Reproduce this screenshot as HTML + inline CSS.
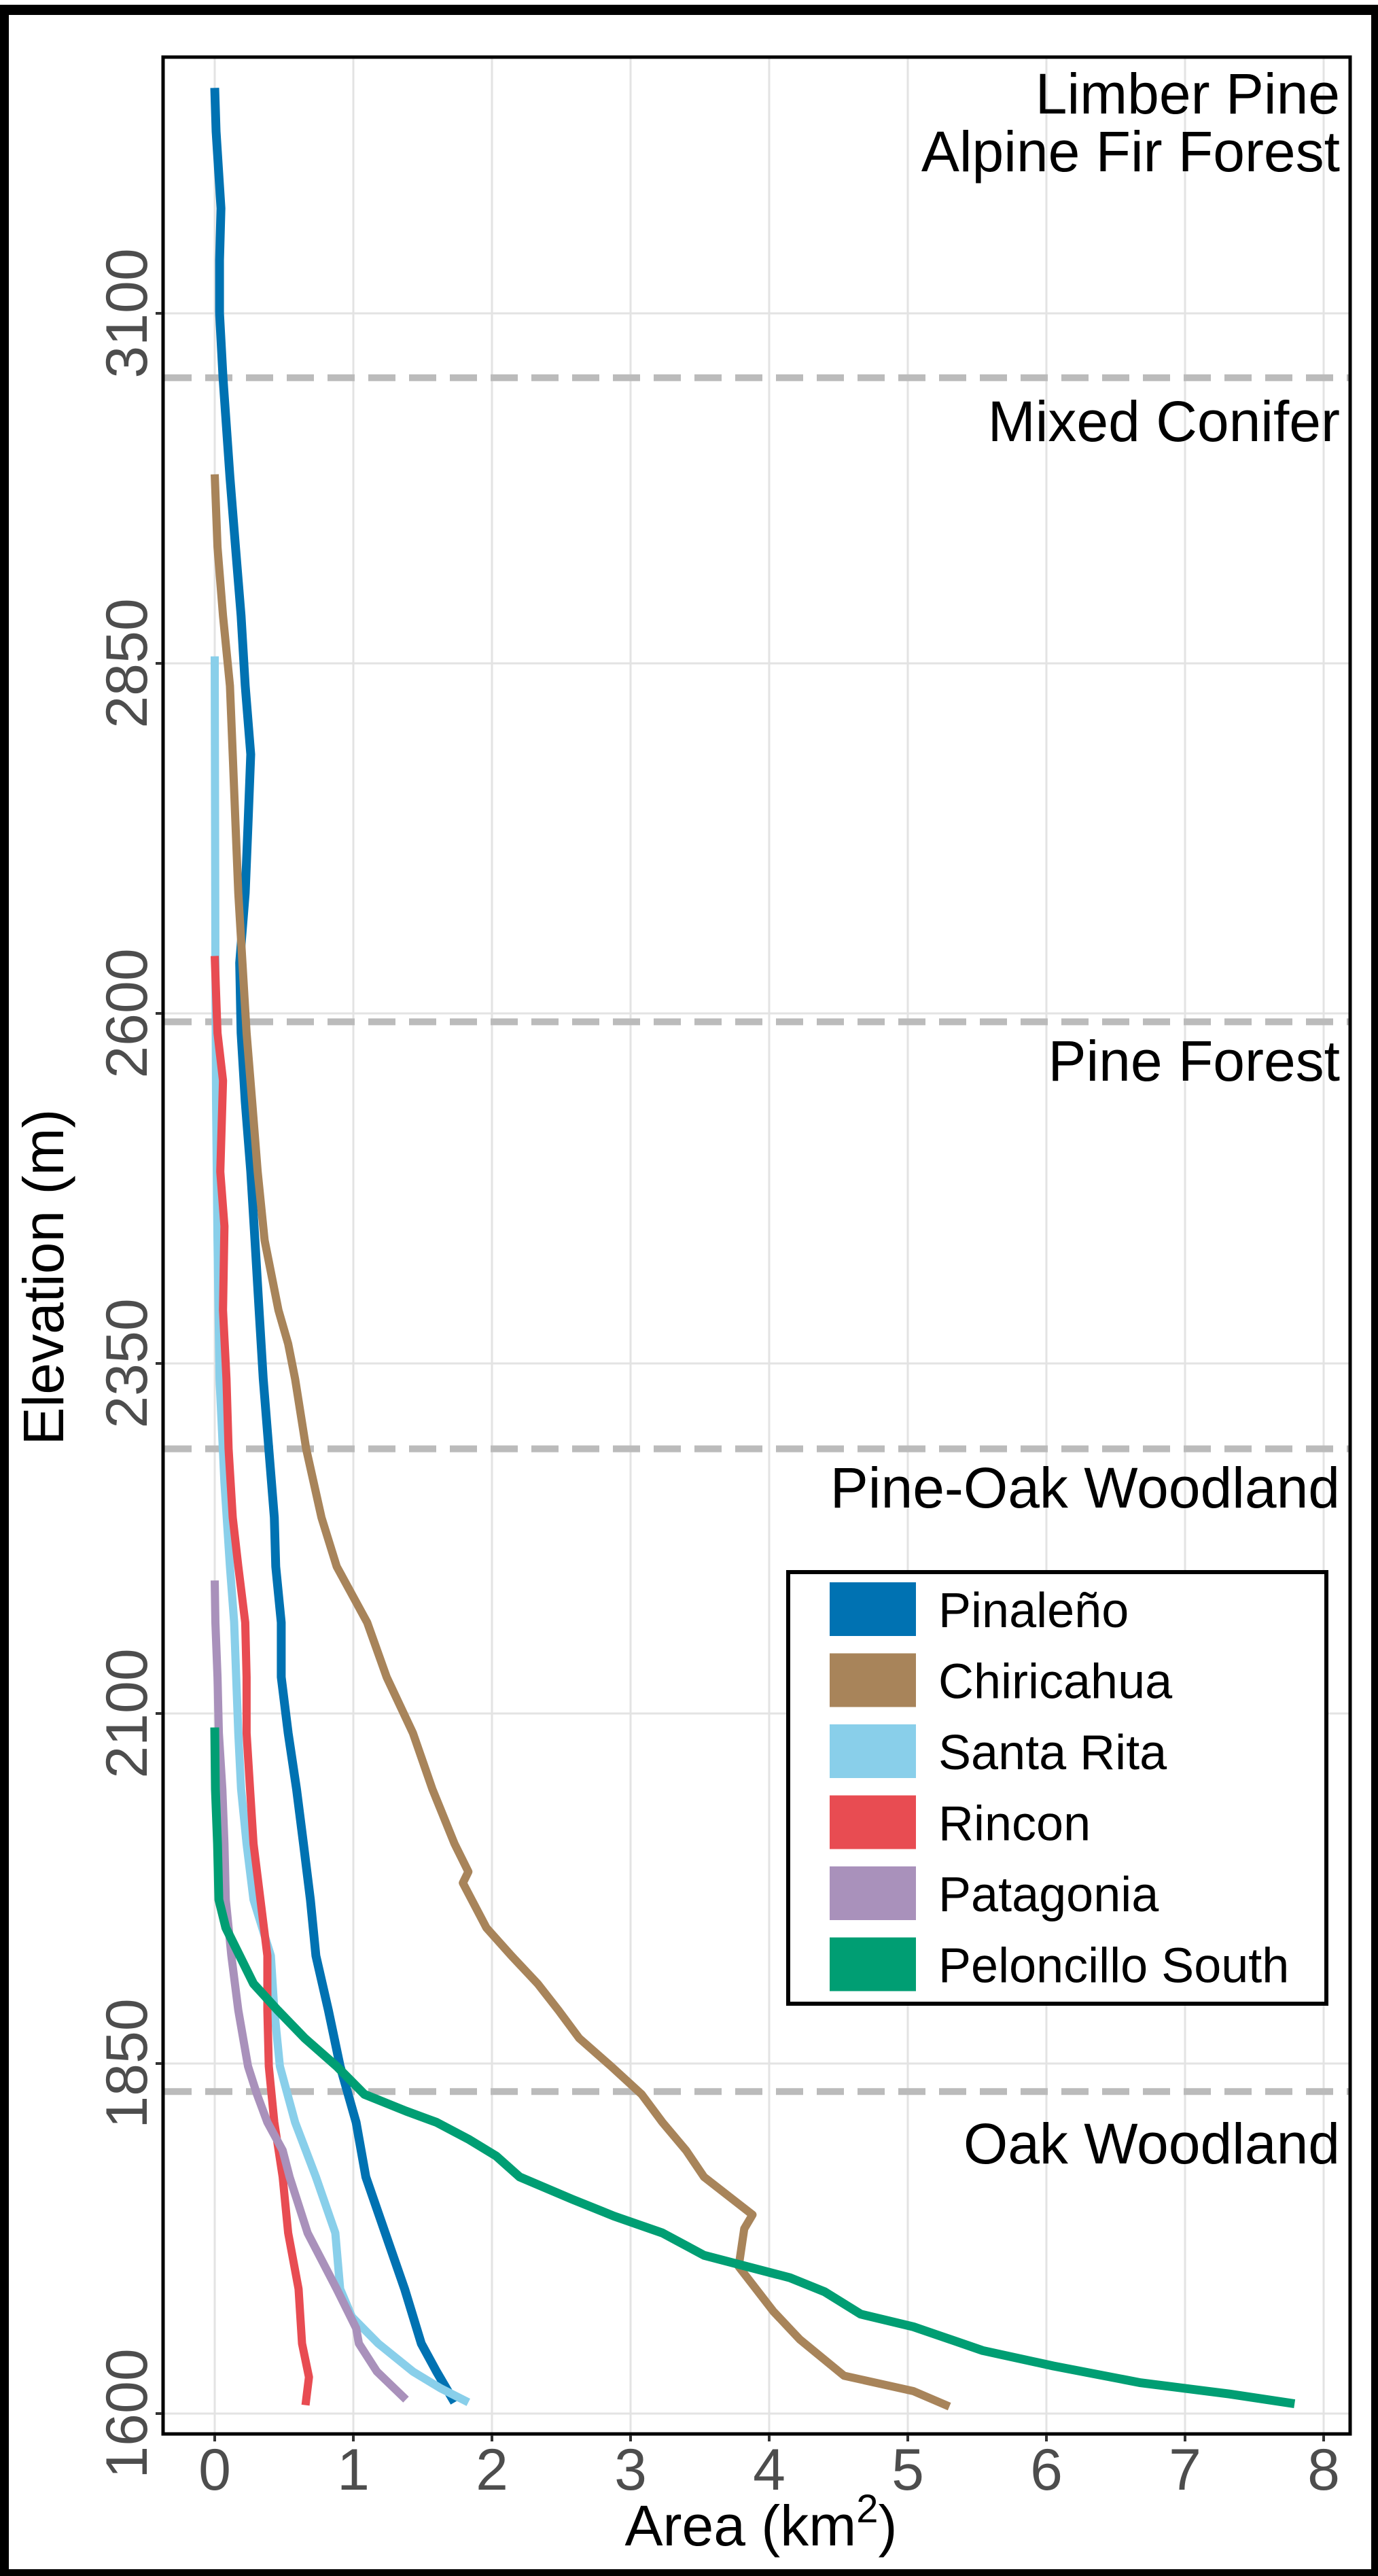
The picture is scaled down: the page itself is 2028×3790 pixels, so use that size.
<!DOCTYPE html>
<html><head><meta charset="utf-8"><style>
html,body{margin:0;padding:0;background:#fff;}
svg{display:block;font-family:"Liberation Sans",Arial,sans-serif;}
</style></head><body>
<svg id="chart" width="2028" height="3790" viewBox="0 0 2028 3790" xmlns="http://www.w3.org/2000/svg">
<rect x="0" y="0" width="2028" height="3790" fill="#fff"/>
<g id="frame">
<rect x="0" y="7" width="2028" height="15" fill="#000"/>
<rect x="0" y="7" width="13" height="3783" fill="#000"/>
<rect x="2018" y="7" width="10" height="3783" fill="#000"/>
<rect x="0" y="3780" width="2028" height="10" fill="#000"/>
</g>
<g id="grid"></g>
<g id="zones"></g>
<g id="series"></g>
<rect x="240" y="84" width="1747" height="3497" fill="none" stroke="#000" stroke-width="5"/>
<g id="axes"></g>
<text x="1120" y="3745" font-size="84" text-anchor="middle" fill="#000">Area (km<tspan dy="-34" font-size="58">2</tspan><tspan dy="34">)</tspan></text>
<text transform="translate(93,1879) rotate(-90)" font-size="84" text-anchor="middle" fill="#000">Elevation (m)</text>
<g id="legend">
<rect x="1160" y="2313" width="792" height="635" fill="#fff" stroke="#000" stroke-width="6"/>
</g>
</svg>
<script>
const seriesNames = ["Pinaleño","Chiricahua","Santa Rita","Rincon","Patagonia","Peloncillo South"];
const seriesColors = ["#0072B2","#A8845A","#89CFEA","#E84C52","#A991BB","#009E73"];
const xTicks = [0,1,2,3,4,5,6,7,8];
const yTicks = [1600,1850,2100,2350,2600,2850,3100];
const zoneBounds = [3054,2594,2289,1830];
const zoneNames = [["Limber Pine","Alpine Fir Forest"],["Mixed Conifer"],["Pine Forest"],["Pine-Oak Woodland"],["Oak Woodland"]];
const zoneLabelY = [[167,252],[649],[1590],[2218],[3183]];
// [elevation m, area km2]
const pinaleno = [[3261,0],[3230,.01],[3175,.045],[3138,.035],[3100,.035],[3054,.06],[2983,.11],[2933,.15],[2884,.19],[2834,.22],[2785,.26],[2735,.24],[2686,.22],[2636,.18],[2586,.19],[2537,.22],[2487,.26],[2438,.29],[2388,.32],[2339,.35],[2289,.39],[2240,.43],[2205,.44],[2165,.48],[2126,.48],[2086,.53],[2046,.59],[2007,.64],[1967,.69],[1927,.73],[1888,.82],[1848,.905],[1808,1.02],[1769,1.09],[1729,1.23],[1689,1.37],[1650,1.49],[1630,1.6],[1608,1.73]];
const chiricahua = [[2985,0],[2933,.02],[2884,.06],[2834,.11],[2785,.13],[2735,.15],[2686,.17],[2636,.20],[2586,.23],[2537,.27],[2487,.31],[2438,.36],[2388,.46],[2364,.53],[2339,.58],[2289,.66],[2240,.77],[2205,.88],[2165,1.1],[2126,1.24],[2086,1.43],[2046,1.57],[2007,1.73],[1987,1.83],[1979,1.79],[1947,1.96],[1927,2.14],[1907,2.33],[1888,2.48],[1868,2.63],[1848,2.86],[1828,3.08],[1808,3.23],[1788,3.4],[1769,3.53],[1752,3.75],[1742,3.88],[1732,3.82],[1705,3.78],[1673,4.03],[1653,4.22],[1627,4.54],[1616,5.04],[1605,5.3]];
const santaRita = [[2855,0],[2636,.005],[2537,.01],[2438,.02],[2339,.035],[2265,.07],[2205,.11],[2165,.14],[2126,.155],[2086,.17],[2046,.19],[2007,.23],[1967,.28],[1927,.405],[1888,.43],[1848,.47],[1808,.58],[1769,.73],[1729,.87],[1689,.905],[1669,.99],[1650,1.18],[1630,1.43],[1618,1.63],[1608,1.83]];
const rincon = [[2641,0],[2586,.02],[2552,.06],[2487,.04],[2448,.07],[2388,.06],[2339,.085],[2289,.10],[2240,.13],[2205,.17],[2165,.22],[2126,.23],[2086,.23],[2046,.255],[2007,.28],[1967,.33],[1927,.38],[1888,.38],[1848,.39],[1808,.43],[1769,.49],[1729,.53],[1689,.605],[1650,.63],[1626,.68],[1606,.655]];
const patagonia = [[2195,0],[2165,.005],[2126,.02],[2086,.03],[2046,.055],[2007,.07],[1967,.08],[1927,.12],[1888,.17],[1848,.24],[1828,.305],[1808,.38],[1788,.49],[1769,.54],[1729,.67],[1689,.88],[1661,1.02],[1650,1.04],[1630,1.17],[1610,1.38]];
const peloncillo = [[2090,0],[2046,.005],[2007,.02],[1967,.03],[1947,.08],[1927,.18],[1907,.28],[1888,.455],[1868,.65],[1848,.88],[1828,1.08],[1816,1.38],[1808,1.6],[1796,1.83],[1784,2.03],[1769,2.2],[1753,2.58],[1741,2.88],[1729,3.23],[1713,3.53],[1697,4.15],[1687,4.40],[1671,4.66],[1662,5.04],[1645,5.54],[1634,6.05],[1622,6.68],[1614,7.32],[1607,7.79]];
const allSeries = [pinaleno, chiricahua, santaRita, rincon, patagonia, peloncillo];

const NS = "http://www.w3.org/2000/svg";
function X(a){ return 316 + 204*a; }
function Y(e){ return 3551 - (e-1600)*2.06; }
function mk(tag, attrs, parent){ const el=document.createElementNS(NS,tag); for(const k in attrs) el.setAttribute(k, attrs[k]); parent.appendChild(el); return el; }

const grid = document.getElementById('grid');
xTicks.forEach(v=>{
  const l = mk('line',{x1:X(v),x2:X(v),y1:86,y2:3579,stroke:'#e3e3e3','stroke-width':3},grid);
  
  
});
yTicks.forEach(v=>{
  const l = mk('line',{x1:242,x2:1985,y1:Y(v),y2:Y(v),stroke:'#e3e3e3','stroke-width':3},grid);
  
  
});

const zones = document.getElementById('zones');
zoneBounds.forEach(v=>{
  const l = mk('line',{x1:242,x2:1985,y1:Y(v),y2:Y(v),stroke:'#bbbbbb','stroke-width':10,'stroke-dasharray':'40 20'},zones);
  
  
});
zoneNames.forEach((lines,i)=>{
  lines.forEach((txt,j)=>{
    const t = mk('text',{x:1972,y:zoneLabelY[i][j],'font-size':84,'text-anchor':'end',fill:'#000'},zones);
    t.textContent = txt;
    
    
  });
});

const sg = document.getElementById('series');
allSeries.forEach((s,i)=>{
  const pts = s.map(p=>X(p[1]).toFixed(1)+','+Y(p[0]).toFixed(1)).join(' ');
  const pl = mk('polyline',{points:pts,fill:'none',stroke:seriesColors[i],'stroke-width':(i===0||i===5)?13:12,'stroke-linejoin':'round','stroke-linecap':'butt'},sg);
  
  
});

const ax = document.getElementById('axes');
xTicks.forEach(v=>{
  const tk = mk('line',{x1:X(v),x2:X(v),y1:3583,y2:3592,stroke:'#333','stroke-width':4},ax);
  
  
  const t = mk('text',{x:X(v),y:3663,'font-size':86,'text-anchor':'middle',fill:'#4d4d4d'},ax);
  t.textContent = String(v);
  
  
});
yTicks.forEach(v=>{
  const tk = mk('line',{x1:229,x2:238,y1:Y(v),y2:Y(v),stroke:'#333','stroke-width':4},ax);
  
  
  const t = mk('text',{transform:'translate(216,'+Y(v)+') rotate(-90)','font-size':86,'text-anchor':'middle',fill:'#4d4d4d'},ax);
  t.textContent = String(v);
  
  
});

const lg = document.getElementById('legend');
seriesNames.forEach((n,i)=>{
  const top = 2328 + i*104.5;
  const r = mk('rect',{x:1221,y:top,width:127,height:79,fill:seriesColors[i]},lg);
  
  
  const t = mk('text',{x:1381,y:top+66,'font-size':72,fill:'#000'},lg);
  t.textContent = n;
  
  
});
</script>
</body></html>
